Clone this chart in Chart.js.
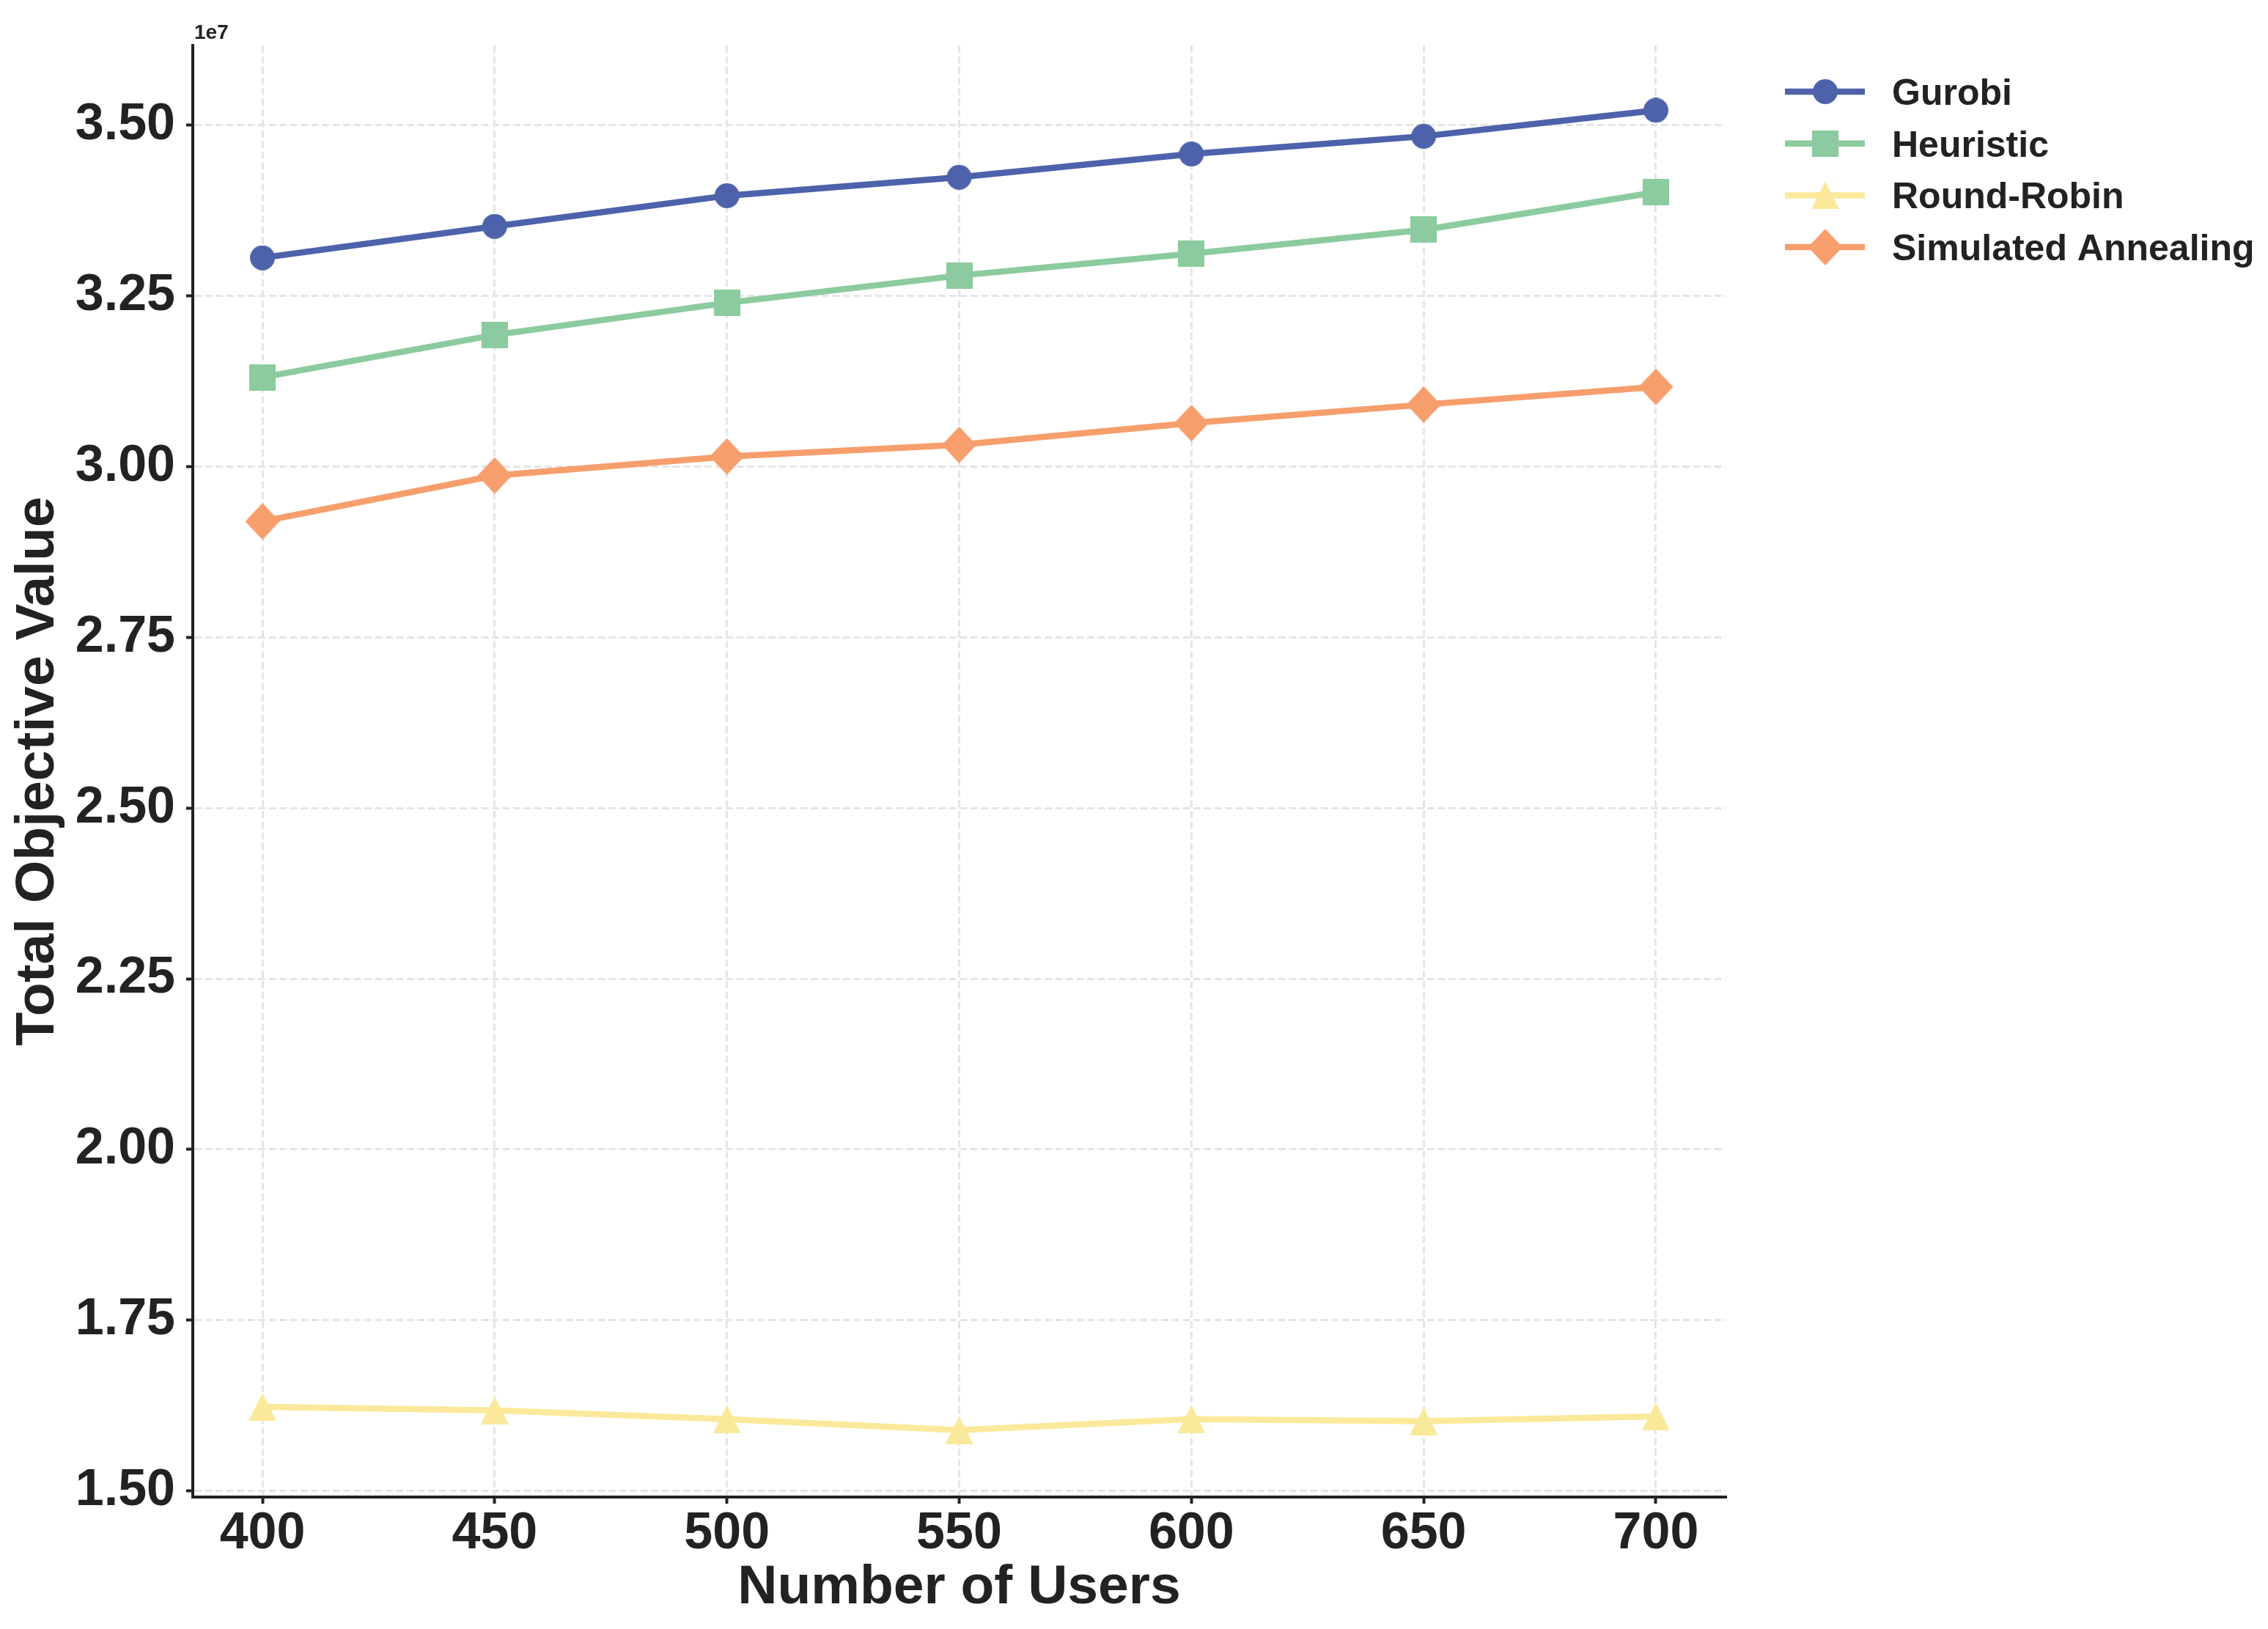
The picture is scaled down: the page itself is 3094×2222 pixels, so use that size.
<!DOCTYPE html>
<html>
<head>
<meta charset="utf-8">
<script src="https://cdn.jsdelivr.net/npm/chart.js@4.4.1/dist/chart.umd.min.js"></script>
<style>
  html, body { margin: 0; padding: 0; background: #fff; }
  #chart { display: block; }
</style>
</head>
<body>
<canvas id="chart" width="3094" height="2222"></canvas>
<script>
// values
const users = [400, 450, 500, 550, 600, 650, 700];
const gurobi = [3.306e7, 3.352e7, 3.397e7, 3.424e7, 3.458e7, 3.484e7, 3.522e7];
const heuristic = [3.131e7, 3.193e7, 3.240e7, 3.280e7, 3.312e7, 3.347e7, 3.402e7];
const roundRobin = [1.623e7, 1.618e7, 1.605e7, 1.589e7, 1.605e7, 1.602e7, 1.609e7];
const annealing = [2.920e7, 2.987e7, 3.015e7, 3.032e7, 3.064e7, 3.091e7, 3.117e7];
const seriesNames = ['Gurobi', 'Heuristic', 'Round-Robin', 'Simulated Annealing'];
const yTicks = [1.50e7, 1.75e7, 2.00e7, 2.25e7, 2.50e7, 2.75e7, 3.00e7, 3.25e7, 3.50e7];

const FONT = "'Liberation Sans', Arial, sans-serif";
const TEXT = '#222222';
const colors = ['#4d62ab', '#8ccb9f', '#fbe99b', '#f69e6c'];

// marker images, matplotlib-like shapes
function makeMarker(kind, color) {
    const c = document.createElement('canvas');
    let w = 34, h = 34;
    if (kind === 'square') { w = 36; h = 36; }
    if (kind === 'triangle') { w = 38; h = 38; }
    if (kind === 'diamond') { w = 47; h = 50; }
    c.width = w; c.height = h;
    const g = c.getContext('2d');
    g.fillStyle = color;
    g.beginPath();
    if (kind === 'circle') {
        g.arc(w / 2, h / 2, w / 2, 0, Math.PI * 2);
    } else if (kind === 'square') {
        g.rect(0, 0, w, h);
    } else if (kind === 'triangle') {
        g.moveTo(w / 2, 0);
        g.lineTo(w, h);
        g.lineTo(0, h);
        g.closePath();
    } else {
        g.moveTo(w / 2, 0);
        g.lineTo(w, h / 2);
        g.lineTo(w / 2, h);
        g.lineTo(0, h / 2);
        g.closePath();
    }
    g.fill();
    return c;
}

const markers = [
    makeMarker('circle', colors[0]),
    makeMarker('square', colors[1]),
    makeMarker('triangle', colors[2]),
    makeMarker('diamond', colors[3])
];

const seriesValues = [gurobi, heuristic, roundRobin, annealing];

const datasets = seriesNames.map((name, i) => ({
    label: name,
    data: users.map((u, j) => ({ x: u, y: seriesValues[i][j] })),
    borderColor: colors[i],
    backgroundColor: colors[i],
    borderWidth: 8.5,
    pointStyle: markers[i],
    pointRadius: 18,
    pointHoverRadius: 18,
    tension: 0
}));

// offset text and legend drawn by hand, matplotlib style
const extras = {
    id: 'extras',
    afterDraw(chart) {
        const ctx = chart.ctx;
        ctx.save();
        ctx.fillStyle = TEXT;
        ctx.font = 'bold 28px ' + FONT;
        ctx.textBaseline = 'alphabetic';
        ctx.textAlign = 'left';
        ctx.fillText('1e7', 265, 53);

        ctx.font = 'bold 50px ' + FONT;
        chart.data.datasets.forEach((ds, i) => {
            const y = 125 + i * 70.7;
            ctx.strokeStyle = ds.borderColor;
            ctx.lineWidth = 8.5;
            ctx.beginPath();
            ctx.moveTo(2435, y);
            ctx.lineTo(2544, y);
            ctx.stroke();
            const m = ds.pointStyle;
            ctx.drawImage(m, 2490 - m.width / 2, y - m.height / 2);
            ctx.fillStyle = TEXT;
            ctx.fillText(ds.label, 2581, y + 18);
        });
        ctx.restore();
    }
};

const whiteBg = {
    id: 'whiteBg',
    beforeDraw(chart) {
        const ctx = chart.ctx;
        ctx.save();
        ctx.fillStyle = '#ffffff';
        ctx.fillRect(0, 0, chart.width, chart.height);
        ctx.restore();
    }
};

new Chart(document.getElementById('chart'), {
    type: 'line',
    data: { datasets: datasets },
    plugins: [whiteBg, extras],
    options: {
        responsive: false,
        animation: false,
        devicePixelRatio: 1,
        layout: { padding: { left: 0, top: 62, right: 740, bottom: 0 } },
        plugins: {
            legend: { display: false },
            tooltip: { enabled: false }
        },
        scales: {
            x: {
                type: 'linear',
                min: 385,
                max: 715,
                afterBuildTicks: scale => { scale.ticks = users.map(v => ({ value: v })); },
                afterFit: scale => { scale.height = 180; },
                ticks: {
                    color: TEXT,
                    font: { family: FONT, size: 70, weight: 'bold' },
                    padding: 0,
                    maxRotation: 0,
                    callback: v => String(v)
                },
                grid: {
                    color: '#e5e5e5',
                    lineWidth: 3,
                    drawTicks: true,
                    tickLength: 9,
                    tickColor: TEXT,
                    tickWidth: 4,
                    tickBorderDash: []
                },
                border: { display: true, color: TEXT, width: 4, dash: [10, 4.5] },
                title: {
                    display: true,
                    text: 'Number of Users',
                    color: TEXT,
                    font: { family: FONT, size: 75, weight: 'bold' },
                    padding: { top: 0, bottom: 11 }
                }
            },
            y: {
                type: 'linear',
                min: 1.491e7,
                max: 3.617e7,
                afterBuildTicks: scale => { scale.ticks = yTicks.map(v => ({ value: v })); },
                afterFit: scale => { scale.width = 263; },
                ticks: {
                    color: TEXT,
                    font: { family: FONT, size: 70, weight: 'bold' },
                    padding: 15,
                    callback: v => (v / 1e7).toFixed(2)
                },
                grid: {
                    color: '#e5e5e5',
                    lineWidth: 3,
                    drawTicks: true,
                    tickLength: 9,
                    tickColor: TEXT,
                    tickWidth: 4,
                    tickBorderDash: []
                },
                border: { display: true, color: TEXT, width: 4, dash: [10, 4.5] },
                title: {
                    display: true,
                    text: 'Total Objective Value',
                    color: TEXT,
                    font: { family: FONT, size: 75, weight: 'bold' },
                    padding: { top: 7, bottom: 0 }
                }
            }
        }
    }
});
</script>
</body>
</html>
